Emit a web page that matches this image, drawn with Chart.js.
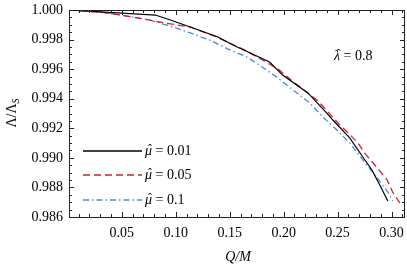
<!DOCTYPE html>
<html>
<head>
<meta charset="utf-8">
<script src="https://cdn.jsdelivr.net/npm/chart.js@4"></script>
<style>
  html, body { margin: 0; padding: 0; background: #fff; }
  #wrap { width: 407px; height: 271px; }
</style>
</head>
<body>
<div id="wrap"><canvas id="ratioChart" width="407" height="271"></canvas></div>
<script>
// Q/M values and Lambda/Lambda_S values
var qBlack   = [0.001, 0.081, 0.095, 0.116, 0.139, 0.153, 0.187, 0.199, 0.2225, 0.240, 0.2456, 0.2614, 0.2734, 0.2818, 0.2891, 0.2966];
var lamBlack = [1.0, 0.99966, 0.99932, 0.99878, 0.99817, 0.99763, 0.99648, 0.99560, 0.99439, 0.99303, 0.99256, 0.99134, 0.99006, 0.98918, 0.98816, 0.98708];

var qRed   = [0.001, 0.030, 0.049, 0.076, 0.090, 0.113, 0.136, 0.164, 0.185, 0.195, 0.209, 0.231, 0.241, 0.252, 0.260, 0.269, 0.275, 0.283, 0.296, 0.301, 0.309];
var lamRed = [1.0, 0.99985, 0.99966, 0.99932, 0.99912, 0.99885, 0.99824, 0.99729, 0.99642, 0.99600, 0.99513, 0.99390, 0.99312, 0.99222, 0.99168, 0.99100, 0.99033, 0.98965, 0.98850, 0.98769, 0.98681];

var qBlue   = [0.001, 0.030, 0.049, 0.076, 0.0975, 0.116, 0.1336, 0.1484, 0.166, 0.180, 0.1947, 0.2086, 0.2243, 0.2364, 0.2494, 0.2614, 0.2734, 0.2845, 0.2966, 0.3012];
var lamBlue = [1.0, 0.99985, 0.99966, 0.99932, 0.99885, 0.99838, 0.99790, 0.99736, 0.99682, 0.99615, 0.99540, 0.99459, 0.99371, 0.99276, 0.99188, 0.99100, 0.98986, 0.98884, 0.98769, 0.98708];

var seriesLabels = ["0.01", "0.05", "0.1"];
var xTicks = [0.05, 0.10, 0.15, 0.20, 0.25, 0.30];
var yTicks = [0.986, 0.988, 0.990, 0.992, 0.994, 0.996, 0.998, 1.000];

var serif = "'Liberation Serif', 'Times New Roman', serif";
var colors = ["#000000", "#c8252c", "#4a8ad6"];
var dashes = [[], [7, 4], [6, 3, 1.5, 3]];

function pts(xs, ys) {
    return xs.map(function (x, i) { return { x: x, y: ys[i] }; });
}

// inward ticks on all four sides, plus the frame
var frameTicks = {
    id: "frameTicks",
    afterDraw: function (chart) {
        var c = chart.ctx, a = chart.chartArea;
        var xs = chart.scales.x, ys = chart.scales.y;
        c.save();
        c.strokeStyle = "#222";
        c.lineWidth = 1;
        c.beginPath();
        for (var i = 1; i <= 31; i++) {
            var v = i / 100;
            var px = Math.round(xs.getPixelForValue(v)) + 0.5;
            var len = (i % 5 === 0) ? 5 : 3;
            c.moveTo(px, a.bottom); c.lineTo(px, a.bottom - len);
            c.moveTo(px, a.top); c.lineTo(px, a.top + len);
        }
        for (var j = 0; j <= 28; j++) {
            var w = 0.986 + j * 0.0005;
            var py = Math.round(ys.getPixelForValue(w)) + 0.5;
            var l2 = (j % 4 === 0) ? 5 : 3;
            c.moveTo(a.left, py); c.lineTo(a.left + l2, py);
            c.moveTo(a.right, py); c.lineTo(a.right - l2, py);
        }
        c.stroke();
        c.strokeRect(Math.round(a.left) + 0.5, Math.round(a.top) + 0.5,
            Math.round(a.right - a.left) - 1, Math.round(a.bottom - a.top));
        c.restore();
    }
};

// italic letter with a hat on top, then the rest of the label
function hatLabel(c, letter, rest, x, y) {
    c.font = "italic 14px " + serif;
    c.textAlign = "left";
    c.fillText(letter, x, y);
    var w = c.measureText(letter).width;
    c.font = "12px " + serif;
    c.textAlign = "center";
    c.fillText("\u02C6", x + w / 2 + 1.5, y - 1);
    c.font = "14px " + serif;
    c.textAlign = "left";
    c.fillText(rest, x + w, y);
}

// legend, annotation and axis titles
var labelsPlugin = {
    id: "labelsPlugin",
    afterDraw: function (chart) {
        var c = chart.ctx;
        c.save();
        c.fillStyle = "#000";
        c.textBaseline = "middle";
        var rows = [151, 175, 200];
        for (var i = 0; i < 3; i++) {
            c.strokeStyle = colors[i];
            c.lineWidth = 1.3;
            c.setLineDash(dashes[i]);
            c.beginPath();
            c.moveTo(83, rows[i]); c.lineTo(142, rows[i]);
            c.stroke();
            c.setLineDash([]);
            hatLabel(c, "\u03BC", " = " + seriesLabels[i], 145, rows[i]);
        }
        hatLabel(c, "\u03BB", " = 0.8", 334, 56);

        // x title
        c.font = "italic 14px " + serif;
        c.textAlign = "center";
        c.fillText("Q/M", 238, 257);

        // y title
        c.translate(12, 113);
        c.rotate(-Math.PI / 2);
        c.textAlign = "left";
        c.font = "14px " + serif;
        var wMain = c.measureText("\u039B/\u039B").width;
        c.font = "italic 10px " + serif;
        var wSub = c.measureText("S").width;
        var x0 = -(wMain + wSub) / 2;
        c.font = "14px " + serif;
        c.fillText("\u039B/\u039B", x0, 0);
        c.font = "italic 10px " + serif;
        c.fillText("S", x0 + wMain, 4);
        c.restore();
    }
};

var ctx = document.getElementById("ratioChart").getContext("2d");

var chart = new Chart(ctx, {
    type: "line",
    data: {
        datasets: [
            { data: pts(qBlack, lamBlack), borderColor: colors[0], borderWidth: 1.2, borderDash: dashes[0] },
            { data: pts(qRed, lamRed), borderColor: colors[1], borderWidth: 1.3, borderDash: dashes[1] },
            { data: pts(qBlue, lamBlue), borderColor: colors[2], borderWidth: 1.3, borderDash: dashes[2] }
        ]
    },
    options: {
        responsive: false,
        animation: false,
        layout: { padding: { top: 10, right: 2, left: 0, bottom: 0 } },
        elements: { point: { radius: 0 }, line: { tension: 0, fill: false } },
        plugins: { legend: { display: false }, tooltip: { enabled: false } },
        scales: {
            x: {
                type: "linear",
                min: 0.001,
                max: 0.3125,
                grid: { display: false, drawTicks: false },
                border: { display: false },
                afterBuildTicks: function (s) { s.ticks = xTicks.map(function (v) { return { value: v }; }); },
                afterFit: function (s) { s.height = 54; s.paddingLeft = 0; s.paddingRight = 0; },
                ticks: {
                    padding: 8,
                    color: "#000",
                    maxRotation: 0,
                    autoSkip: false,
                    font: { family: serif, size: 14 },
                    callback: function (v) { return Number(v).toFixed(2); }
                }
            },
            y: {
                min: 0.986,
                max: 1.000,
                grid: { display: false, drawTicks: false },
                border: { display: false },
                afterBuildTicks: function (s) { s.ticks = yTicks.map(function (v) { return { value: v }; }); },
                afterFit: function (s) { s.width = 69; s.paddingTop = 0; s.paddingBottom = 0; },
                ticks: {
                    padding: 6,
                    color: "#000",
                    autoSkip: false,
                    font: { family: serif, size: 14 },
                    callback: function (v) { return Number(v).toFixed(3); }
                }
            }
        }
    },
    plugins: [frameTicks, labelsPlugin]
});
</script>
</body>
</html>
